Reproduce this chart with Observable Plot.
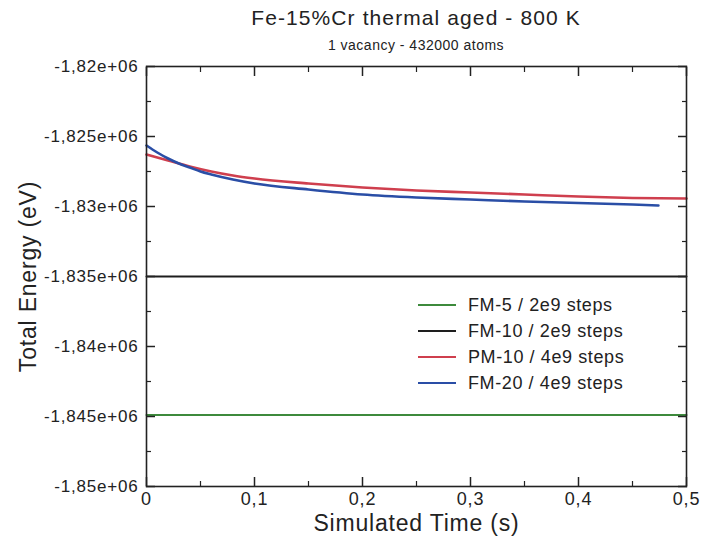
<!DOCTYPE html>
<html><head><meta charset="utf-8">
<script src="https://cdn.jsdelivr.net/npm/d3@7"></script>
<script src="https://cdn.jsdelivr.net/npm/@observablehq/plot@0.6"></script>
<style>
body{margin:0;background:#fff;font-family:"Liberation Sans",Arial,sans-serif;color:#222;}
#wrap{position:relative;width:702px;height:541px;}
#title{position:absolute;z-index:2;left:146px;width:540px;top:6px;text-align:center;font-size:21px;letter-spacing:1.1px;}
#sub{position:absolute;z-index:2;left:146px;width:540px;top:37px;text-align:center;font-size:14px;letter-spacing:0.5px;}
#chart{position:absolute;z-index:1;left:0;top:40px;}
#legend{position:absolute;z-index:2;left:418px;top:292px;}
.row{display:flex;align-items:center;height:26px;font-size:18px;letter-spacing:0.6px;}
.sw{width:38px;height:2px;margin-right:12px;}
</style></head>
<body><div id="wrap"><div id="title"></div><div id="sub"></div><div id="chart"></div><div id="legend"></div></div>
<script>
const titleText = "Fe-15%Cr thermal aged - 800 K";
const subtitleText = "1 vacancy - 432000 atoms";
const xLabel = "Simulated Time (s)";
const yLabel = "Total Energy (eV)";

const seriesNames = ["FM-5 / 2e9 steps", "FM-10 / 2e9 steps", "PM-10 / 4e9 steps", "FM-20 / 4e9 steps"];
const seriesColors = ["#3d8a3c", "#1e1e1e", "#cf3f4e", "#2a4ea6"];

// FM-5 (green)
const fm5Time = [0, 0.5];
const fm5Energy = [-1844900, -1844900];
// FM-10 (black)
const fm10Time = [0, 0.5];
const fm10Energy = [-1835000, -1835000];
// PM-10 (red)
const pm10Time = [0, 0.02, 0.04, 0.06, 0.08, 0.1, 0.15, 0.2, 0.25, 0.3, 0.35, 0.4, 0.45, 0.5];
const pm10Energy = [-1826286, -1826714, -1827143, -1827500, -1827786, -1828000, -1828357, -1828643, -1828857, -1829000, -1829143, -1829286, -1829393, -1829429];
// FM-20 (blue)
const fm20Time = [0, 0.01, 0.02, 0.03, 0.04, 0.05, 0.06, 0.08, 0.1, 0.15, 0.2, 0.25, 0.3, 0.35, 0.4, 0.45, 0.474];
const fm20Energy = [-1825643, -1826143, -1826571, -1826929, -1827214, -1827500, -1827714, -1828071, -1828357, -1828786, -1829143, -1829357, -1829500, -1829643, -1829750, -1829857, -1829929];

const xTicks = [0, 0.1, 0.2, 0.3, 0.4, 0.5];
const xTickLabels = ["0", "0,1", "0,2", "0,3", "0,4", "0,5"];
const xMinorTicks = [0.05, 0.15, 0.25, 0.35, 0.45];
const yTicks = [-1820000, -1825000, -1830000, -1835000, -1840000, -1845000, -1850000];
const yTickLabels = ["-1,82e+06", "-1,825e+06", "-1,83e+06", "-1,835e+06", "-1,84e+06", "-1,845e+06", "-1,85e+06"];
const yMinorTicks = [-1822500, -1827500, -1832500, -1837500, -1842500, -1847500];

const toRows = (t, e) => t.map((x, i) => ({t: x, e: e[i]}));
const seriesData = [toRows(fm5Time, fm5Energy), toRows(fm10Time, fm10Energy), toRows(pm10Time, pm10Energy), toRows(fm20Time, fm20Energy)];
const widths = [2, 2, 2.6, 2.6];

document.getElementById("title").textContent = titleText;
document.getElementById("sub").textContent = subtitleText;

const xFmt = v => xTickLabels[xTicks.findIndex(d => Math.abs(d - v) < 1e-9)];
const yFmt = v => yTickLabels[yTicks.indexOf(v)];
const blank = () => "";

const plot = Plot.plot({
  width: 702, height: 501,
  marginTop: 26, marginBottom: 55, marginLeft: 146, marginRight: 16,
  style: {fontFamily: "Liberation Sans, Arial, sans-serif", fontSize: "17px", color: "#222", letterSpacing: "0.8px", background: "transparent"},
  x: {domain: [0, 0.5]},
  y: {domain: [-1850000, -1820000]},
  marks: [
    ...seriesData.map((d, i) => Plot.line(d, {x: "t", y: "e", stroke: seriesColors[i], strokeWidth: widths[i], curve: "monotone-x"})),
    Plot.frame({stroke: "#222", strokeWidth: 1.6}),
    Plot.axisY({ticks: yTicks, tickSize: 0, tickPadding: 8, tickFormat: yFmt, label: null}),
    Plot.axisY({ticks: yTicks, anchor: "left", tickSize: 9, dx: 9, tickFormat: blank, label: null, strokeWidth: 1.5}),
    Plot.axisY({ticks: yMinorTicks, anchor: "left", tickSize: 5, dx: 5, tickFormat: blank, label: null, strokeWidth: 1.2}),
    Plot.axisY({ticks: yTicks, anchor: "right", tickSize: 9, dx: -9, tickFormat: blank, label: null, strokeWidth: 1.5}),
    Plot.axisY({ticks: yMinorTicks, anchor: "right", tickSize: 5, dx: -5, tickFormat: blank, label: null, strokeWidth: 1.2}),
    Plot.axisX({ticks: xTicks, tickSize: 0, tickPadding: 6, tickFormat: xFmt, label: null, fontSize: 18}),
    Plot.axisX({ticks: xTicks, anchor: "bottom", tickSize: 9, dy: -9, tickFormat: blank, label: null, strokeWidth: 1.5}),
    Plot.axisX({ticks: xMinorTicks, anchor: "bottom", tickSize: 5, dy: -5, tickFormat: blank, label: null, strokeWidth: 1.2}),
    Plot.axisX({ticks: xTicks, anchor: "top", tickSize: 9, dy: 9, tickFormat: blank, label: null, strokeWidth: 1.5}),
    Plot.axisX({ticks: xMinorTicks, anchor: "top", tickSize: 5, dy: 5, tickFormat: blank, label: null, strokeWidth: 1.2}),
    Plot.text([xLabel], {frameAnchor: "bottom", dy: 44, fontSize: 23, text: d => d, lineAnchor: "bottom"}),
    Plot.text([yLabel], {frameAnchor: "left", dx: -118, rotate: -90, fontSize: 23, textAnchor: "middle", text: d => d})
  ]
});
document.getElementById("chart").appendChild(plot);

const legend = document.getElementById("legend");
seriesNames.forEach((n, i) => {
  const r = document.createElement("div"); r.className = "row";
  const s = document.createElement("div"); s.className = "sw"; s.style.background = seriesColors[i];
  const t = document.createElement("span"); t.textContent = n;
  r.appendChild(s); r.appendChild(t); legend.appendChild(r);
});
</script></body></html>
